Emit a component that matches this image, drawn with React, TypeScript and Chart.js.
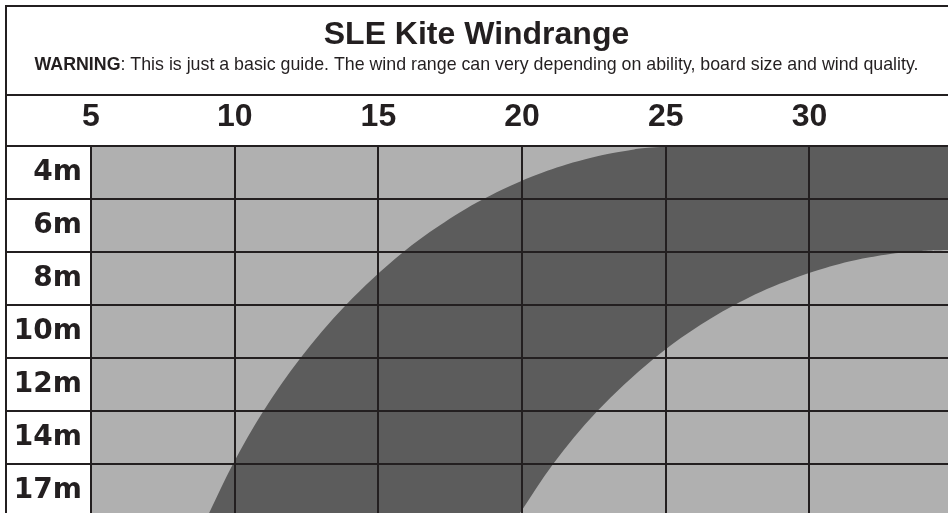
import { useEffect, useRef } from 'react';
import { Chart, registerables } from 'chart.js';

Chart.register(...registerables);

// ---- text ----
const chartTitle = 'SLE Kite Windrange';
const warningLead = 'WARNING';
const warningRest =
  ': This is just a basic guide. The wind range can very depending on ability, board size and wind quality.';

// ---- wind axis (knots) ----
const windTicks = [5, 10, 15, 20, 25, 30];
const windMin = 5;
const windMax = 34.82;

// ---- kite rows ----
const kiteSizes = ['4m', '6m', '8m', '10m', '12m', '14m', '17m'];
const rowCentres = [0.5, 1.5, 2.5, 3.5, 4.5, 5.5, 6.5];
const rowMax = 6.925; // last row is cut off at the bottom

// ---- the dark wind-range band, edges ----
// position down the rows (0 = top of 4m row, 1 = top of 6m row, ...) and the wind at that spot
const lowEdgeRow = [0, 0.02, 0.1, 0.25, 0.5, 1, 1.5, 2, 3, 4, 5, 6, 6.925];
const lowEdgeWind = [25.84, 24.81, 23.53, 22.2, 20.72, 18.66, 17.13, 15.87, 13.87, 12.29, 11.0, 9.94, 9.11];
const highEdgeRow = [1.962, 1.97, 2.0, 2.1, 2.3, 2.6, 3, 3.5, 4, 5, 6, 6.925];
const highEdgeWind = [34.89, 34.23, 33.43, 32.1, 30.55, 28.96, 27.39, 25.86, 24.61, 22.62, 21.08, 19.93];

const INK = '#231f20';
const DARK = '#5c5c5c';
const LIGHT = '#b0b0b0';
const SANS = '"Liberation Sans", Arial, sans-serif';
const WIDE = '"DejaVu Sans", Verdana, sans-serif';

const plotBackground = {
  id: 'plotBackground',
  beforeDraw(chart: any) {
    const { ctx, chartArea: a } = chart;
    ctx.save();
    ctx.fillStyle = LIGHT;
    ctx.fillRect(a.left, a.top, a.right - a.left, a.bottom - a.top);
    ctx.restore();
  },
};

const frameAndWarning = {
  id: 'frameAndWarning',
  afterDraw(chart: any) {
    const { ctx } = chart;
    const w = chart.width;
    const h = chart.height;
    const sepY = chart.scales.x.top;
    ctx.save();
    ctx.strokeStyle = INK;
    ctx.lineWidth = 2;
    ctx.beginPath();
    ctx.moveTo(6, h);
    ctx.lineTo(6, 6);
    ctx.lineTo(w, 6);
    ctx.moveTo(5, sepY);
    ctx.lineTo(w, sepY);
    ctx.stroke();

    // warning line, bold lead + regular rest
    const size = 17.8;
    const boldFont = `bold ${size}px ${SANS}`;
    const normFont = `${size}px ${SANS}`;
    ctx.font = boldFont;
    const wLead = ctx.measureText(warningLead).width;
    ctx.font = normFont;
    const wRest = ctx.measureText(warningRest).width;
    const cx = (5 + w) / 2;
    const x0 = cx - (wLead + wRest) / 2;
    const baseY = sepY - 25;
    ctx.fillStyle = INK;
    ctx.textBaseline = 'alphabetic';
    ctx.textAlign = 'left';
    ctx.font = boldFont;
    ctx.fillText(warningLead, x0, baseY);
    ctx.font = normFont;
    ctx.fillText(warningRest, x0 + wLead, baseY);
    ctx.restore();
  },
};

export default function App() {
  const canvasRef = useRef<HTMLCanvasElement | null>(null);

  useEffect(() => {
    document.body.style.margin = '0';
    const canvas = canvasRef.current;
    if (!canvas) return;

    const lowEdge = lowEdgeRow.map((r, i) => ({ x: lowEdgeWind[i], y: r }));
    const highEdge = highEdgeRow.map((r, i) => ({ x: highEdgeWind[i], y: r }));

    const chart = new Chart(canvas, {
      type: 'line',
      data: {
        datasets: [
          {
            label: 'Wind range',
            data: lowEdge,
            indexAxis: 'y',
            fill: { value: 40 },
            backgroundColor: DARK,
            borderColor: DARK,
            borderWidth: 0,
            pointRadius: 0,
            cubicInterpolationMode: 'monotone',
            order: 2,
          } as any,
          {
            label: 'Above range',
            data: highEdge,
            indexAxis: 'y',
            fill: { value: 40 },
            backgroundColor: LIGHT,
            borderColor: LIGHT,
            borderWidth: 0,
            pointRadius: 0,
            cubicInterpolationMode: 'monotone',
            order: 1,
          } as any,
        ],
      },
      options: {
        responsive: false,
        animation: false,
        events: [],
        layout: { padding: { left: 5, top: 0, right: 0, bottom: 0 } },
        plugins: {
          legend: { display: false },
          tooltip: { enabled: false },
          title: {
            display: true,
            text: chartTitle,
            color: INK,
            font: { family: SANS, weight: 'bold', size: 32, lineHeight: 1.2 },
            padding: { top: 16.2, bottom: 40.4 },
          },
        },
        scales: {
          x: {
            type: 'linear',
            position: 'top',
            min: windMin,
            max: windMax,
            afterBuildTicks: (axis: any) => {
              axis.ticks = windTicks.map((v) => ({ value: v }));
            },
            afterFit: (axis: any) => {
              axis.height = 51;
            },
            ticks: {
              color: INK,
              font: { family: SANS, weight: 'bold', size: 32 },
              padding: 10,
              maxRotation: 0,
              autoSkip: false,
              callback: (v: any) => String(v),
            },
            grid: { color: INK, lineWidth: 2, drawTicks: false, z: 1 },
            border: { display: false },
          },
          y: {
            type: 'linear',
            reverse: true,
            min: 0,
            max: rowMax,
            afterBuildTicks: (axis: any) => {
              axis.ticks = rowCentres.map((v) => ({ value: v }));
            },
            afterFit: (axis: any) => {
              axis.width = 86;
            },
            ticks: {
              color: INK,
              font: { family: WIDE, weight: 'bold', size: 28 },
              padding: -77,
              autoSkip: false,
              callback: (_v: any, i: number) => kiteSizes[i],
            },
            grid: {
              color: INK,
              lineWidth: 2,
              offset: true,
              drawTicks: true,
              tickLength: 86,
              z: 1,
            },
            border: { display: false },
          },
        },
      },
      plugins: [plotBackground, frameAndWarning],
    });

    return () => chart.destroy();
  }, []);

  return (
    <div style={{ width: 948, height: 513 }}>
      <canvas ref={canvasRef} width={948} height={513} style={{ display: 'block' }} />
    </div>
  );
}
